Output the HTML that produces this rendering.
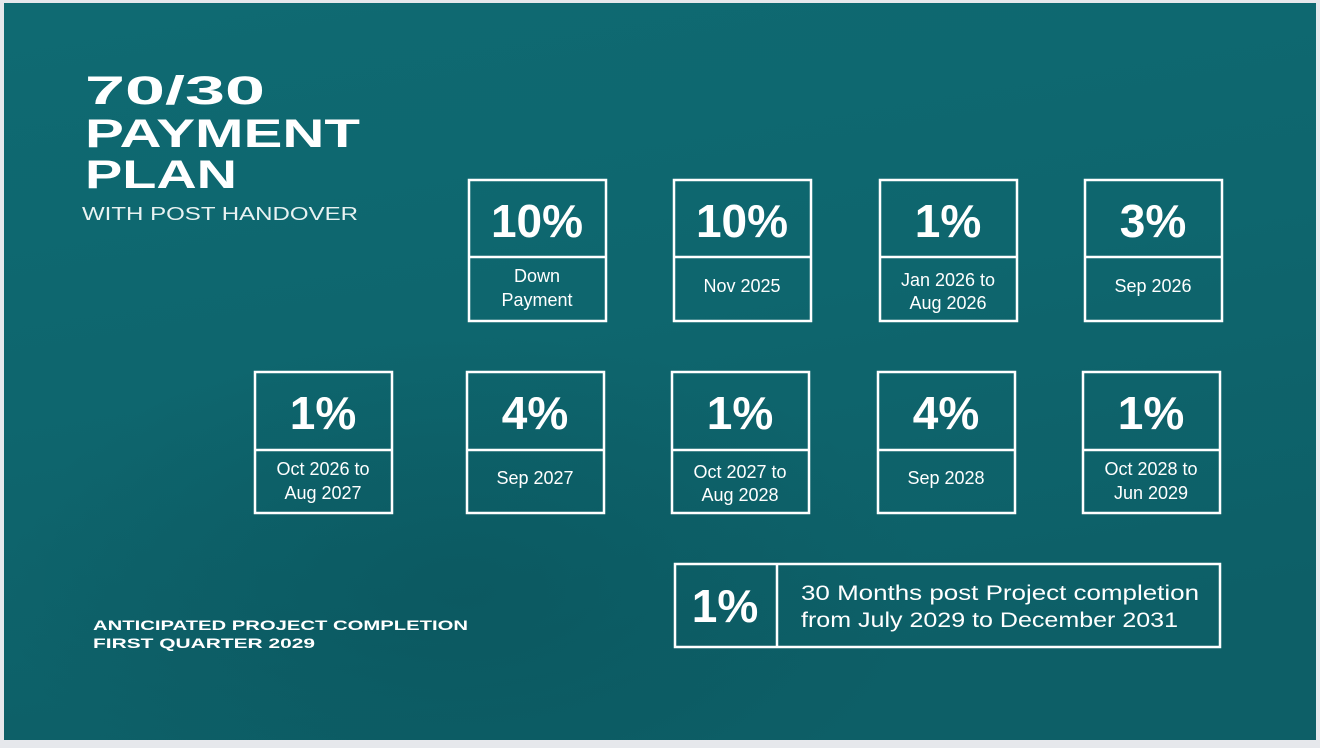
<!DOCTYPE html>
<html><head><meta charset="utf-8"><style>
html,body{margin:0;padding:0;background:#e6e8ec;width:1320px;height:748px;overflow:hidden}
svg{display:block}
</style></head><body>
<svg width="1320" height="748" viewBox="0 0 1320 748" xmlns="http://www.w3.org/2000/svg" font-family="Liberation Sans, sans-serif">
<defs>
<linearGradient id="bg" x1="0" y1="0" x2="0.3" y2="1">
<stop offset="0" stop-color="#0f6a72"/>
<stop offset="0.5" stop-color="#0e666e"/>
<stop offset="1" stop-color="#0d5f67"/>
</linearGradient>
<radialGradient id="d1" cx="0.35" cy="0.8" r="0.35">
<stop offset="0" stop-color="#0a4f57" stop-opacity="0.45"/>
<stop offset="1" stop-color="#0a4f57" stop-opacity="0"/>
</radialGradient>
</defs>
<rect x="4" y="3" width="1312" height="737" fill="url(#bg)"/>
<rect x="4" y="3" width="1312" height="737" fill="url(#d1)"/>
<g fill="#fff">
<text x="85" y="104" font-size="40" font-weight="bold" textLength="180" lengthAdjust="spacingAndGlyphs">70/30</text>
<text x="85" y="147" font-size="40" font-weight="bold" textLength="275" lengthAdjust="spacingAndGlyphs">PAYMENT</text>
<text x="85" y="188" font-size="40" font-weight="bold" textLength="152" lengthAdjust="spacingAndGlyphs">PLAN</text>
<text x="82" y="220" font-size="18" textLength="276" lengthAdjust="spacingAndGlyphs" fill="#e8f2f2">WITH POST HANDOVER</text>
<text x="93" y="630" font-size="14" font-weight="bold" textLength="375" lengthAdjust="spacingAndGlyphs">ANTICIPATED PROJECT COMPLETION</text>
<text x="93" y="648" font-size="14" font-weight="bold" textLength="222" lengthAdjust="spacingAndGlyphs">FIRST QUARTER 2029</text>
</g>
<g fill="none" stroke="#fff" stroke-width="2.5">
<rect x="469" y="180" width="137" height="141"/><line x1="469" y1="257" x2="606" y2="257"/>
<rect x="674" y="180" width="137" height="141"/><line x1="674" y1="257" x2="811" y2="257"/>
<rect x="880" y="180" width="137" height="141"/><line x1="880" y1="257" x2="1017" y2="257"/>
<rect x="1085" y="180" width="137" height="141"/><line x1="1085" y1="257" x2="1222" y2="257"/>
<rect x="255" y="372" width="137" height="141"/><line x1="255" y1="450" x2="392" y2="450"/>
<rect x="467" y="372" width="137" height="141"/><line x1="467" y1="450" x2="604" y2="450"/>
<rect x="672" y="372" width="137" height="141"/><line x1="672" y1="450" x2="809" y2="450"/>
<rect x="878" y="372" width="137" height="141"/><line x1="878" y1="450" x2="1015" y2="450"/>
<rect x="1083" y="372" width="137" height="141"/><line x1="1083" y1="450" x2="1220" y2="450"/>
<rect x="675" y="564" width="545" height="83"/><line x1="777" y1="564" x2="777" y2="647"/>
</g>
<g fill="#fff" text-anchor="middle">
<g font-size="46" font-weight="bold">
<text x="537" y="237">10%</text><text x="742" y="237">10%</text><text x="948" y="237">1%</text><text x="1153" y="237">3%</text>
<text x="323" y="429">1%</text><text x="535" y="429">4%</text><text x="740" y="429">1%</text><text x="946" y="429">4%</text><text x="1151" y="429">1%</text>
<text x="725" y="622">1%</text>
</g>
<g font-size="18">
<text x="537" y="282">Down</text><text x="537" y="306">Payment</text>
<text x="742" y="292">Nov 2025</text>
<text x="948" y="286">Jan 2026 to</text><text x="948" y="309">Aug 2026</text>
<text x="1153" y="292">Sep 2026</text>
<text x="323" y="475">Oct 2026 to</text><text x="323" y="499">Aug 2027</text>
<text x="535" y="484">Sep 2027</text>
<text x="740" y="478">Oct 2027 to</text><text x="740" y="501">Aug 2028</text>
<text x="946" y="484">Sep 2028</text>
<text x="1151" y="475">Oct 2028 to</text><text x="1151" y="499">Jun 2029</text>
</g>
</g>
<g fill="#fff" font-size="21">
<text x="801" y="600" textLength="398" lengthAdjust="spacingAndGlyphs">30 Months post Project completion</text>
<text x="801" y="627" textLength="377" lengthAdjust="spacingAndGlyphs">from July 2029 to December 2031</text>
</g>
</svg>
</body></html>
